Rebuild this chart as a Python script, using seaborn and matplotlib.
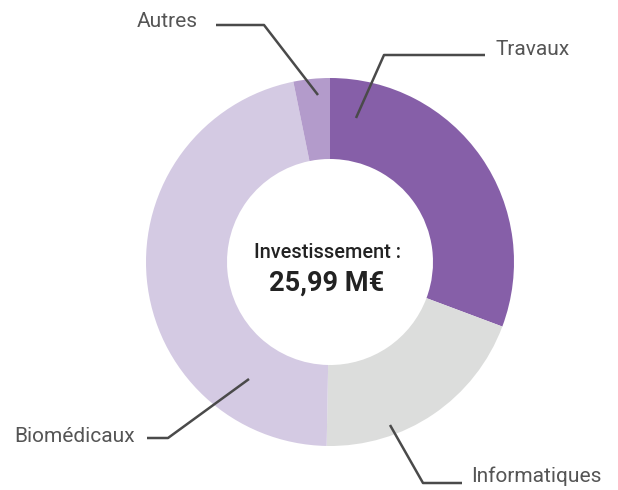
import matplotlib
matplotlib.use("Agg")
import matplotlib.pyplot as plt
import seaborn as sns

# répartition des investissements (M€)
categories = ["Travaux", "Informatiques", "Biomédicaux", "Autres"]
valeurs = [7.98, 5.09, 12.09, 0.83]
couleurs = ["#865FA8", "#DCDDDC", "#D4CAE3", "#B39BCB"]
total_label = "25,99 M€"

sns.set_theme(style="white")
plt.rcParams['font.family'] = ['Roboto', 'DejaVu Sans']

W, H = 618, 490
fig = plt.figure(figsize=(W / 100, H / 100), dpi=100)
ax = fig.add_axes([0, 0, 1, 1])

cx, cy = 330, H - 262
ax.pie(valeurs, colors=couleurs, startangle=90, counterclock=False,
       center=(cx, cy), radius=184, frame=True,
       wedgeprops=dict(width=81, edgecolor="none"))
ax.set_xlim(0, W)
ax.set_ylim(0, H)
ax.set_aspect("equal")
ax.axis("off")

ax.text(cx - 3, H - 252, "Investissement :", ha="center", va="center",
        fontsize=14.3, color="#222222", fontweight="medium")
ax.text(cx - 3, H - 283, total_label, ha="center", va="center",
        fontsize=19.5, color="#222222", fontweight="bold")

# lignes de rappel (pixels)
lignes = {
    "Travaux": [(356, 118), (384, 55), (485, 55)],
    "Informatiques": [(390, 425), (423, 483), (462, 483)],
    "Biomédicaux": [(249, 379), (168, 438), (147, 438)],
    "Autres": [(318, 95), (264, 25), (216, 25)],
}
textes = {
    "Travaux": (496, 50, "left"),
    "Informatiques": (471, 476, "left"),
    "Biomédicaux": (135, 436, "right"),
    "Autres": (198, 22, "right"),
}
for cat in categories:
    pts = lignes[cat]
    ax.plot([p[0] for p in pts], [H - p[1] for p in pts], color="#4a4a4a", lw=1.8,
            solid_capstyle="butt")
    tx, ty, ha = textes[cat]
    ax.text(tx, H - ty, cat, ha=ha, va="center", fontsize=15, color="#555555")

fig.savefig("out.png", dpi=100)
